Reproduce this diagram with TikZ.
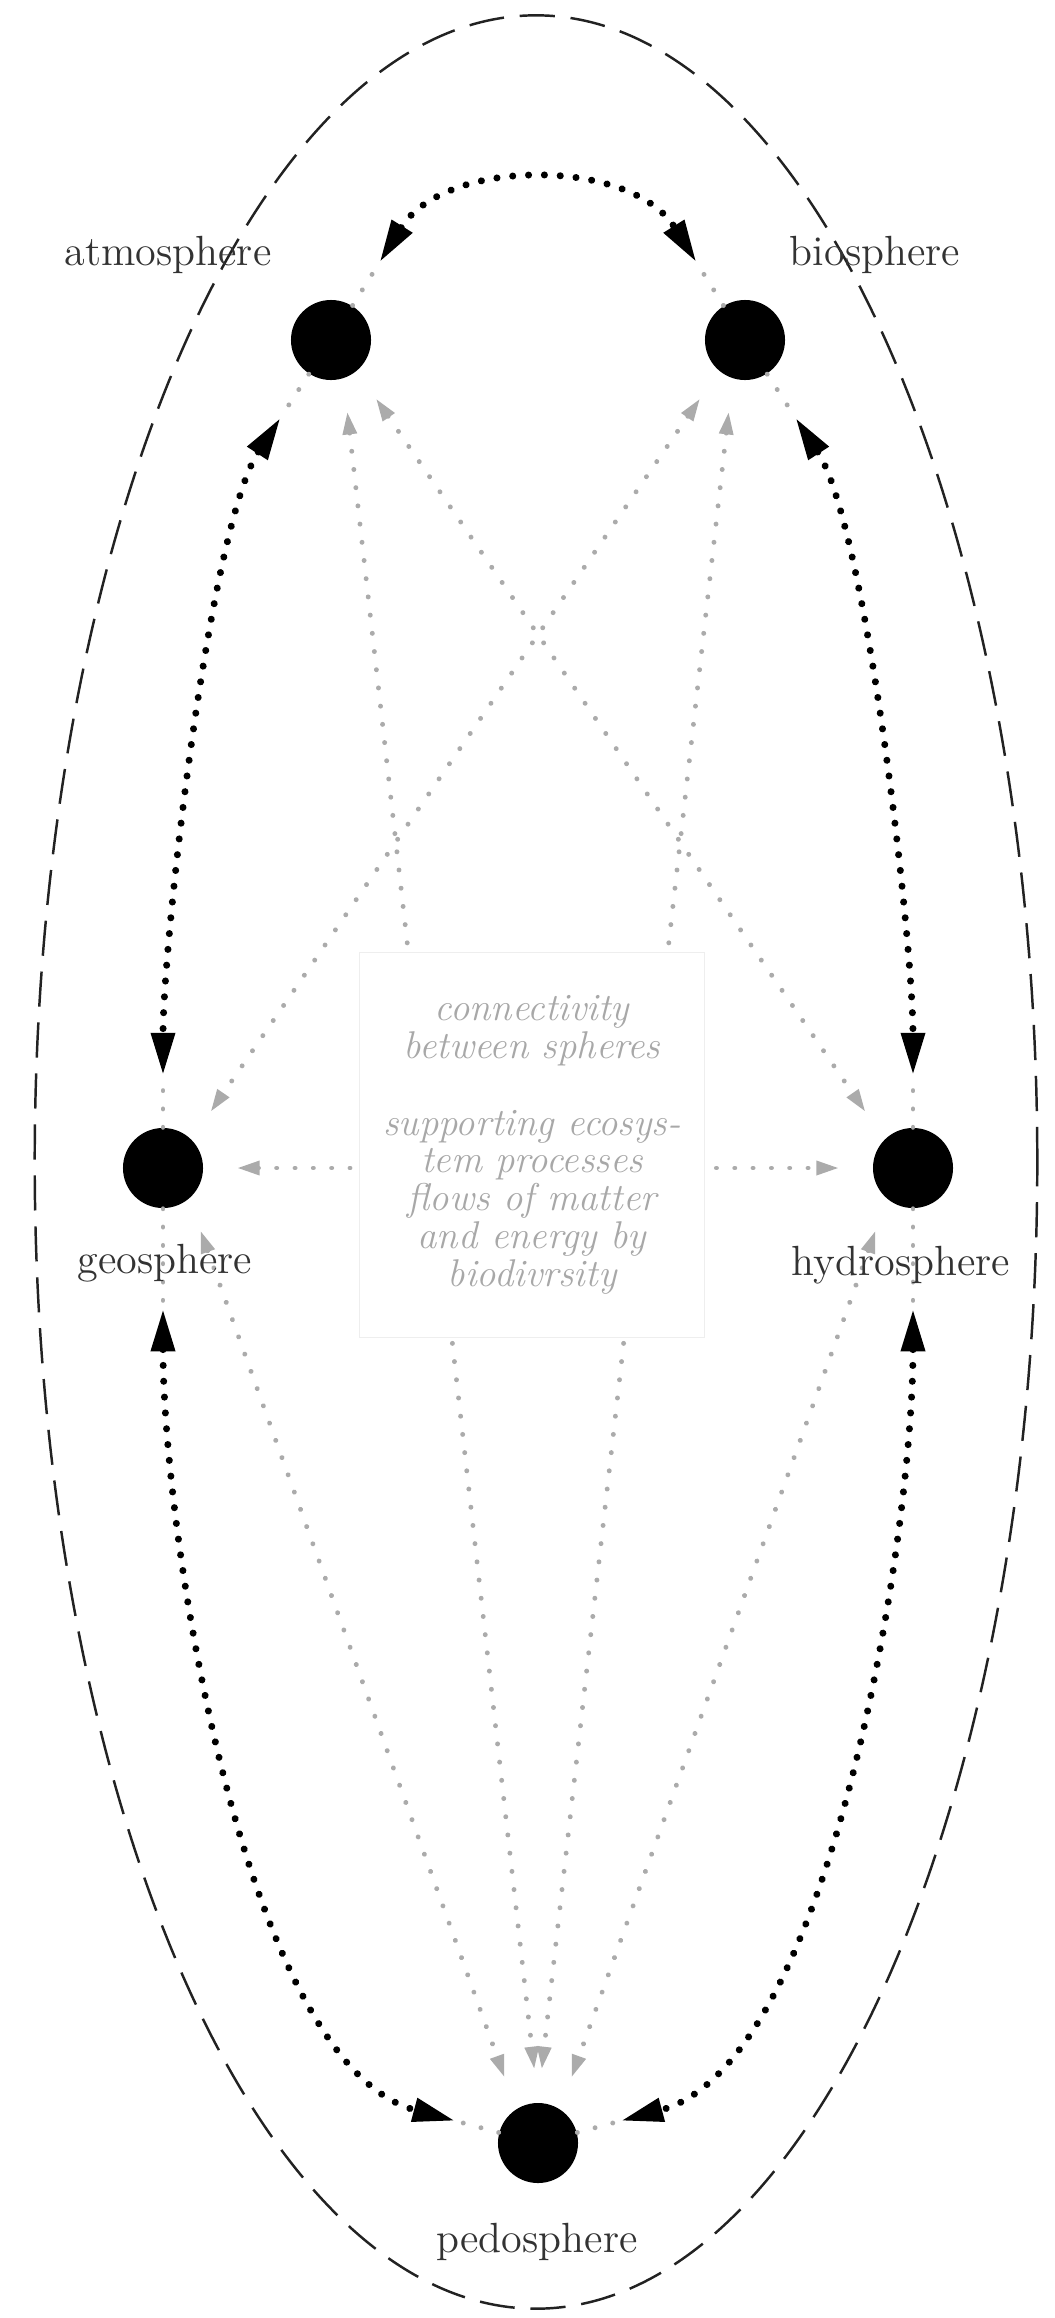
\documentclass[tikz,border=0pt]{standalone}
\usepackage{tikz}
\usetikzlibrary{arrows.meta,positioning}
\definecolor{labelgray}{HTML}{333333}
\definecolor{dotgray}{HTML}{ABABAB}
\definecolor{textgray}{HTML}{A8A8A8}
\definecolor{boxgray}{HTML}{EEEEEE}
\definecolor{rim}{HTML}{222222}

\begin{document}
\begin{tikzpicture}[x=0.01cm, y=-0.01cm,
  sphere/.style={circle, fill=black, minimum size=0.8cm, inner sep=0pt},
  lbl/.style={anchor=base, text=labelgray, font=\fontsize{12}{14}\selectfont},
  lead/.style={draw=dotgray, line width=1.4pt, line cap=round, dash pattern=on 0.01pt off 5.2pt},
  link/.style={draw=black, line width=2pt, line cap=round, dash pattern=on 0.01pt off 4.5pt,
    >={Triangle[length=12pt,width=6.5pt]}, <->},
  flow/.style={lead, >={Triangle[length=6.5pt,width=3.8pt]}, <->, shorten <=0.33cm, shorten >=0.33cm},
  core/.style={rectangle, draw=boxgray, fill=white, minimum width=3.45cm, minimum height=3.85cm,
    align=center, text=textgray, font=\itshape\fontsize{11}{10.8}\selectfont}
]
  \useasboundingbox (0,0) rectangle (1055,2318);
  \draw[rim, line width=0.7pt, dash pattern=on 10pt off 4.5pt] (536,1162) ellipse [x radius=5.01cm, y radius=11.46cm];

  % the five spheres
  \node[sphere] (atm) at (331,340) {};
  \node[sphere] (bio) at (745,340) {};
  \node[sphere] (geo) at (163,1168) {};
  \node[sphere] (hydro) at (913,1168) {};
  \node[sphere] (ped) at (538,2143) {};

  % grey exchanges between spheres
  \foreach \a/\b in {atm.-72/ped.90, bio.-108/ped.90, atm.-50/hydro.135, bio.-130/geo.45,
                     geo.0/hydro.180, geo.-50/ped.123, hydro.-130/ped.57}
    \draw[flow] (\a) -- (\b);

  \node[core] (mid) at (532,1145) {connectivity\\between spheres\\[11pt]supporting ecosys-\\tem processes\\flows of matter\\and energy by\\biodivrsity};

  % tips of the black links
  \foreach \n/\s/\a/\r in {ab/atm/58/0.92, ba/bio/122/0.92, ag/atm/237/0.93, ga/geo/90/0.93,
      bh/bio/-57/0.93, hb/hydro/90/0.93, gp/geo/-90/1.41, pg/ped/165/0.86,
      hp/hydro/-90/1.41, ph/ped/15/0.86}
    \coordinate (\n) at ([shift={(\a:\r cm)}]\s.center);

  \foreach \s/\n in {atm/ab, bio/ba, atm/ag, geo/ga, bio/bh, hydro/hb, geo/gp, ped/pg, hydro/hp, ped/ph}
    \draw[lead] (\s) -- (\n);

  % black links around the ring
  \draw[link] (ab) to[out=58,in=122,looseness=1.0] (ba);
  \draw[link] (ag) to[out=237,in=90,looseness=0.5] (ga);
  \draw[link] (bh) to[out=-57,in=90,looseness=0.5] (hb);
  \draw[link] (gp) to[out=-90,in=165,looseness=0.65] (pg);
  \draw[link] (hp) to[out=-90,in=15,looseness=0.65] (ph);

  \node[lbl] (atmlbl) at (168,265) {atmosphere};
  \node[lbl] (biolbl) at (875,265) {biosphere};
  \node[lbl] (geolbl) at (165,1273) {geosphere};
  \node[lbl] (hydrolbl) at (901,1275) {hydrosphere};
  \node[lbl] (pedlbl) at (537,2252) {pedosphere};
\end{tikzpicture}
\end{document}
